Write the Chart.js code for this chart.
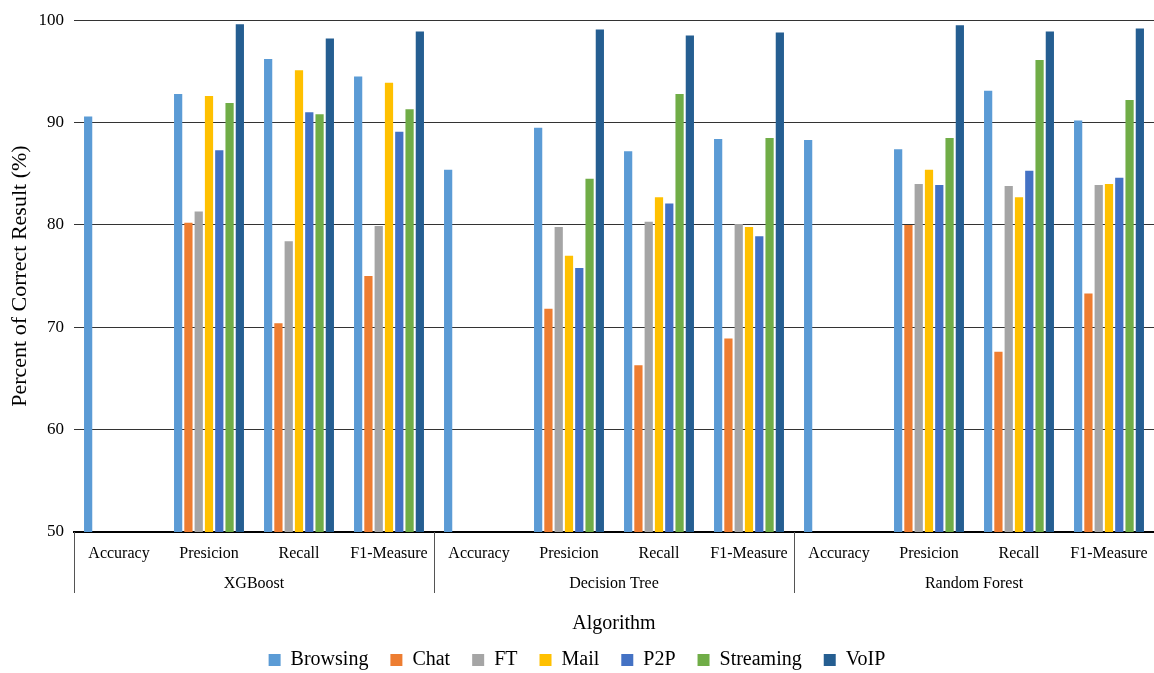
<!DOCTYPE html>
<html>
<head>
<meta charset="utf-8">
<script src="https://cdn.jsdelivr.net/npm/chart.js@4"></script>
<style>
  html, body { margin: 0; padding: 0; background: #fff; }
</style>
</head>
<body>
<canvas id="myChart" width="1154" height="673"></canvas>
<script>
// categories: metric per algorithm
var metrics = ["Accuracy", "Presicion", "Recall", "F1-Measure"];
var algorithms = ["XGBoost", "Decision Tree", "Random Forest"];

var labels = [];
algorithms.forEach(function (a) {
    metrics.forEach(function (m) { labels.push(m); });
});

// series values (Accuracy only has one value)
var browsing  = [90.6, 92.8, 96.2, 94.5, 85.4, 89.5, 87.2, 88.4, 88.3, 87.4, 93.1, 90.2];
var chat      = [null, 80.2, 70.4, 75.0, null, 71.8, 66.3, 68.9, null, 80.0, 67.6, 73.3];
var ft        = [null, 81.3, 78.4, 79.9, null, 79.8, 80.3, 80.1, null, 84.0, 83.8, 83.9];
var mail      = [null, 92.6, 95.1, 93.9, null, 77.0, 82.7, 79.8, null, 85.4, 82.7, 84.0];
var p2p       = [null, 87.3, 91.0, 89.1, null, 75.8, 82.1, 78.9, null, 83.9, 85.3, 84.6];
var streaming = [null, 91.9, 90.8, 91.3, null, 84.5, 92.8, 88.5, null, 88.5, 96.1, 92.2];
var voip      = [null, 99.6, 98.2, 98.9, null, 99.1, 98.5, 98.8, null, 99.5, 98.9, 99.2];

var yTicks = [50, 60, 70, 80, 90, 100];

var serif = "'Liberation Serif', 'DejaVu Serif', serif";

function ds(label, data, color) {
    return {
        label: label,
        data: data,
        backgroundColor: color,
        categoryPercentage: 0.8,
        barPercentage: 0.8
    };
}

// second row of x labels (algorithm names) and the group separators
var groupLabels = {
    id: 'groupLabels',
    afterDraw: function (chart) {
        var xs = chart.scales.x;
        var c = chart.ctx;
        var n = metrics.length;
        var top = chart.chartArea.bottom;
        c.save();
        c.strokeStyle = '#555';
        c.lineWidth = 1;
        c.fillStyle = '#000';
        c.font = '16px ' + serif;
        c.textAlign = 'center';
        c.textBaseline = 'middle';
        for (var g = 0; g < algorithms.length; g++) {
            var first = g * n, last = first + n - 1;
            var left = first === 0 ? xs.left
                : (xs.getPixelForValue(first - 1) + xs.getPixelForValue(first)) / 2;
            var x = Math.round(left) + 0.5;
            c.beginPath();
            c.moveTo(x, top);
            c.lineTo(x, top + 61);
            c.stroke();
            var mid = (xs.getPixelForValue(first) + xs.getPixelForValue(last)) / 2;
            c.fillText(algorithms[g], mid, top + 52);
        }
        c.restore();
    }
};

var ctx = document.getElementById('myChart').getContext('2d');

var myChart = new Chart(ctx, {
    type: 'bar',
    data: {
        labels: labels,
        datasets: [
            ds('Browsing', browsing, '#5B9BD5'),
            ds('Chat', chat, '#ED7D31'),
            ds('FT', ft, '#A5A5A5'),
            ds('Mail', mail, '#FFC000'),
            ds('P2P', p2p, '#4472C4'),
            ds('Streaming', streaming, '#70AD47'),
            ds('VoIP', voip, '#255E91')
        ]
    },
    plugins: [groupLabels],
    options: {
        responsive: false,
        animation: false,
        layout: { padding: { top: 4, right: 0, left: 0, bottom: -7 } },
        plugins: {
            tooltip: { enabled: false },
            legend: {
                position: 'bottom',
                labels: {
                    color: '#000',
                    font: { family: serif, size: 20 },
                    boxWidth: 12,
                    boxHeight: 12,
                    padding: 22
                }
            }
        },
        scales: {
            x: {
                grid: { display: false },
                border: { display: true, color: '#000', width: 2 },
                ticks: {
                    color: '#000',
                    font: { family: serif, size: 16 },
                    maxRotation: 0,
                    autoSkip: false,
                    padding: 4
                },
                title: {
                    display: true,
                    text: 'Algorithm',
                    color: '#000',
                    font: { family: serif, size: 20 },
                    padding: { top: 0, bottom: -8 }
                },
                afterFit: function (scale) { scale.height = 96; }
            },
            y: {
                min: 50,
                max: 100,
                afterBuildTicks: function (scale) {
                    scale.ticks = yTicks.map(function (v) { return { value: v }; });
                },
                grid: { color: '#333', lineWidth: 1, drawTicks: false },
                border: { display: false },
                ticks: {
                    color: '#000',
                    font: { family: serif, size: 17 },
                    padding: 10
                },
                title: {
                    display: true,
                    text: 'Percent of Correct Result (%)',
                    color: '#000',
                    font: { family: serif, size: 22 },
                    padding: { top: 7, bottom: 0 }
                },
                afterFit: function (scale) { scale.width = 74; }
            }
        }
    }
});
</script>
</body>
</html>
